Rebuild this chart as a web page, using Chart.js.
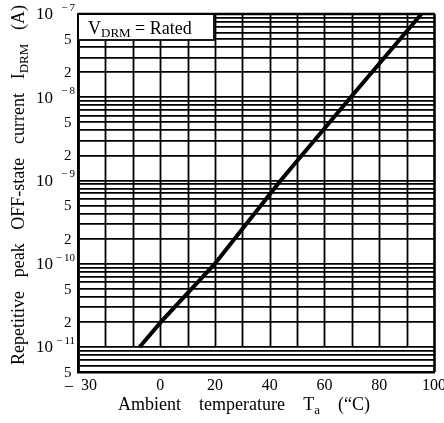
<!DOCTYPE html>
<html>
<head>
<meta charset="utf-8">
<script src="https://cdn.jsdelivr.net/npm/chart.js@4"></script>
<style>
html, body { margin: 0; padding: 0; background: #fff; }
#wrap { width: 444px; height: 423px; }
</style>
</head>
<body>
<div id="wrap"><canvas id="leakChart"></canvas></div>
<script>
// values
const temperature = [-7.5, 0.3, 20, 44, 69.6, 95.4];
const leakCurrent = [1e-11, 2e-11, 1e-10, 1e-9, 1e-8, 1e-7];

// axis ticks
const xGridTicks = [-30, -20, -10, 0, 10, 20, 30, 40, 50, 60, 70, 80, 90, 100];
const xTickLabels = [-30, 0, 20, 40, 60, 80, 100];
const yTickLabels = [1e-7, 5e-8, 2e-8, 1e-8, 5e-9, 2e-9, 1e-9, 5e-10, 2e-10, 1e-10, 5e-11, 2e-11, 1e-11, 5e-12];
const yMin = 5e-12, yMax = 1e-7;

// log grid 1..9 per decade
const yGridTicks = [];
for (let e = -12; e <= -7; e++) {
  for (let m = 1; m <= 9; m++) {
    const v = m * Math.pow(10, e);
    if (v >= yMin * 0.999 && v <= yMax * 1.001) yGridTicks.push(v);
  }
}

const SERIF = '"Liberation Serif", "DejaVu Serif", serif';

// pieces: [text, size, dy, wordStart]
function naturalWidth(ctx, pieces) {
  let w = 0;
  pieces.forEach(p => {
    ctx.font = p[1] + 'px ' + SERIF;
    w += ctx.measureText(p[0]).width;
  });
  return w;
}
// draws pieces so the whole string is `target` px wide, stretching word gaps
function drawFitted(ctx, pieces, x, y, target) {
  const nat = naturalWidth(ctx, pieces);
  const gaps = pieces.filter(p => p[3]).length;
  const extra = target && gaps ? (target - nat) / gaps : 0;
  let cx = x;
  pieces.forEach(p => {
    if (p[3]) cx += extra;
    ctx.font = p[1] + 'px ' + SERIF;
    ctx.fillText(p[0], cx, y + (p[2] || 0));
    cx += ctx.measureText(p[0]).width;
  });
}

const paperPlugin = {
  id: 'paper',
  beforeDatasetsDraw(chart) {
    const ctx = chart.ctx;
    const xs = chart.scales.x, ys = chart.scales.y;
    const area = chart.chartArea;
    ctx.save();
    ctx.strokeStyle = '#000';
    // vertical grid, stops at 1e-11 except the frame
    xGridTicks.forEach(t => {
      const px = Math.round(xs.getPixelForValue(t)) + 0.5;
      const frame = (t === -30 || t === 100);
      ctx.lineWidth = frame ? 2.6 : 1.8;
      ctx.beginPath();
      ctx.moveTo(px, area.top);
      ctx.lineTo(px, frame ? area.bottom : ys.getPixelForValue(1e-11));
      ctx.stroke();
    });
    // top frame
    ctx.lineWidth = 2.6;
    ctx.beginPath();
    ctx.moveTo(area.left, area.top);
    ctx.lineTo(area.right + 1, area.top);
    ctx.stroke();

    // condition box
    const bx = area.left, by = area.top, bw = 136, bh = 26;
    ctx.fillStyle = '#fff';
    ctx.fillRect(bx + 1, by + 1, bw, bh);
    ctx.lineWidth = 1.8;
    ctx.strokeRect(bx, by, bw, bh);
    ctx.fillStyle = '#000';
    ctx.textBaseline = 'alphabetic';
    ctx.textAlign = 'left';
    drawFitted(ctx, [['V', 18], ['DRM', 13, 3], [' = Rated', 18]], bx + 10, by + 20, 114);
    ctx.restore();
  },
  afterDraw(chart) {
    const ctx = chart.ctx;
    const xs = chart.scales.x, ys = chart.scales.y;
    const area = chart.chartArea;
    ctx.save();
    ctx.fillStyle = '#000';

    // y tick labels
    ctx.textBaseline = 'middle';
    yTickLabels.forEach(v => {
      const py = ys.getPixelForValue(v);
      const exp = Math.floor(Math.log10(v) + 1e-9);
      const mant = Math.round(v / Math.pow(10, exp));
      if (mant === 1) {
        ctx.textAlign = 'left';
        ctx.font = '17px ' + SERIF;
        ctx.fillText('10', 36, py + 1);
        ctx.font = '11px ' + SERIF;
        ctx.textAlign = 'right';
        const digits = String(-exp);
        ctx.fillText(digits, 75, py - 6);
        const dw = ctx.measureText(digits).width;
        ctx.fillText('\u2212', 75 - dw - 2, py - 6);
      } else {
        ctx.textAlign = 'left';
        ctx.font = '15px ' + SERIF;
        ctx.fillText(String(mant), 64, py + 1);
      }
    });

    // x tick labels
    ctx.textAlign = 'center';
    ctx.textBaseline = 'middle';
    ctx.font = '16px ' + SERIF;
    xTickLabels.forEach(t => {
      const px = xs.getPixelForValue(t);
      if (t < 0) {
        ctx.fillText('\u2013', px - 9, area.bottom + 14);
        ctx.fillText(String(-t), px + 11, area.bottom + 14);
      } else {
        ctx.fillText(String(t), px, area.bottom + 14);
      }
    });

    // x title
    ctx.textAlign = 'left';
    ctx.textBaseline = 'alphabetic';
    const xt = [['Ambient', 18], ['temperature', 18, 0, true], ['T', 18, 0, true], ['a', 13, 4], ['(\u201cC)', 18, 0, true]];
    drawFitted(ctx, xt, 118, area.bottom + 38, 252);

    // y title, rotated
    ctx.translate(24, 185);
    ctx.rotate(-Math.PI / 2);
    const yt = [['Repetitive', 18], ['peak', 18, 0, true], ['OFF-state', 18, 0, true], ['current', 18, 0, true], ['I', 18, 0, true], ['DRM', 13, 4], ['(A)', 18, 0, true]];
    drawFitted(ctx, yt, -180, 0, 360);
    ctx.restore();
  }
};

const ctx = document.getElementById('leakChart').getContext('2d');

new Chart(ctx, {
  type: 'line',
  data: {
    datasets: [{
      data: temperature.map((t, i) => ({ x: t, y: leakCurrent[i] })),
      borderColor: '#000',
      borderWidth: 4,
      pointRadius: 0,
      fill: false,
      tension: 0
    }]
  },
  options: {
    responsive: true,
    maintainAspectRatio: false,
    animation: false,
    events: [],
    layout: { padding: { left: 78, right: 10, top: 14, bottom: 51 } },
    plugins: {
      legend: { display: false },
      tooltip: { enabled: false },
      title: { display: false }
    },
    scales: {
      x: {
        type: 'linear',
        min: -30,
        max: 100,
        afterBuildTicks: (scale) => { scale.ticks = xGridTicks.map(v => ({ value: v })); },
        ticks: { display: false },
        grid: { display: false, drawTicks: false },
        border: { display: true, color: '#000', width: 2.6 }
      },
      y: {
        type: 'logarithmic',
        min: yMin,
        max: yMax,
        afterBuildTicks: (scale) => { scale.ticks = yGridTicks.map(v => ({ value: v })); },
        ticks: { display: false },
        grid: { color: '#000', lineWidth: 1.8, drawTicks: false },
        border: { display: true, color: '#000', width: 2.6 }
      }
    }
  },
  plugins: [paperPlugin]
});
</script>
</body>
</html>
